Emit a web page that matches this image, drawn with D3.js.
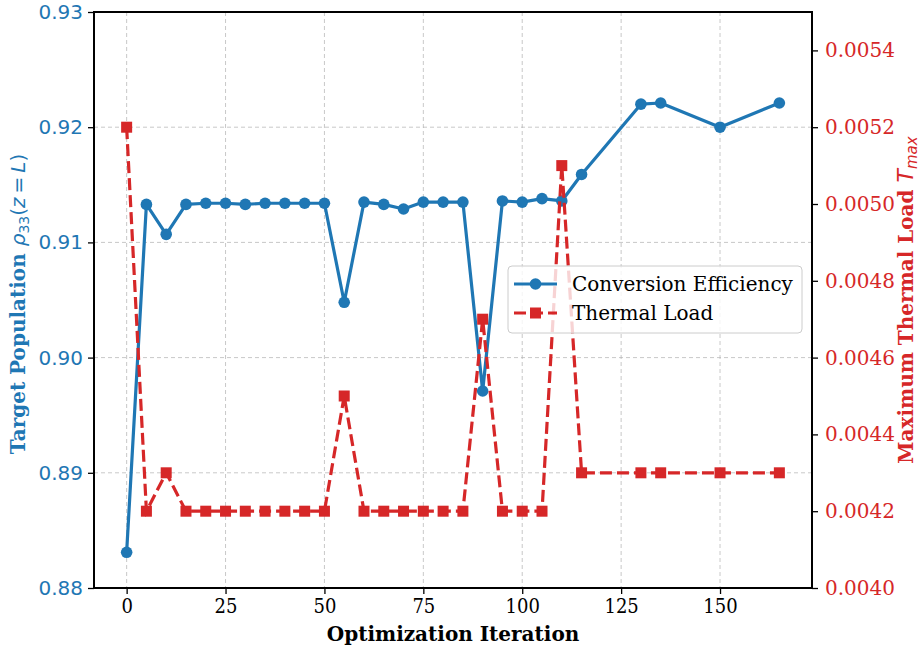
<!DOCTYPE html>
<html><head><meta charset="utf-8">
<script src="https://cdn.jsdelivr.net/npm/d3@7"></script>
<style>body{margin:0;background:#fff}svg{display:block}</style>
</head><body>
<svg id="c" width="924" height="650"></svg>
<script>
const iterations = [0,5,10,15,20,25,30,35,40,45,50,55,60,65,70,75,80,85,90,95,100,105,110,115,130,135,150,165];
const efficiency = [0.8831,0.9133,0.9107,0.9133,0.9134,0.9134,0.9133,0.9134,0.9134,0.9134,0.9134,0.9048,0.9135,0.9133,0.9129,0.9135,0.9135,0.9135,0.8971,0.9136,0.9135,0.9138,0.9136,0.9159,0.9220,0.9221,0.9200,0.9221];
const thermal = [0.0052,0.0042,0.0043,0.0042,0.0042,0.0042,0.0042,0.0042,0.0042,0.0042,0.0042,0.0045,0.0042,0.0042,0.0042,0.0042,0.0042,0.0042,0.0047,0.0042,0.0042,0.0042,0.0051,0.0043,0.0043,0.0043,0.0043,0.0043];
const xTicks = [0,25,50,75,100,125,150];
const leftTicks = [0.88,0.89,0.90,0.91,0.92,0.93];
const rightTicks = [0.0040,0.0042,0.0044,0.0046,0.0048,0.0050,0.0052,0.0054];
const seriesNames = ["Conversion Efficiency","Thermal Load"];

const blue = "#1f77b4", red = "#d62728";
const L = 94, R = 812, T = 12, B = 588;
const svg = d3.select("#c");
const x = d3.scaleLinear().domain([-8.25,173.25]).range([L,R]);
const yL = d3.scaleLinear().domain([0.88,0.93]).range([B,T]);
const yR = d3.scaleLinear().domain([0.0040,0.0055]).range([B,T]);

// grid
const grid = svg.append("g").attr("stroke","#b0b0b0").attr("stroke-opacity",0.7).attr("stroke-width",1).attr("stroke-dasharray","4,3");
grid.selectAll(".gx").data(xTicks).join("line").attr("x1",d=>x(d)).attr("x2",d=>x(d)).attr("y1",T).attr("y2",B);
grid.selectAll(".gy").data(leftTicks).join("line").attr("y1",d=>yL(d)).attr("y2",d=>yL(d)).attr("x1",L).attr("x2",R);

// axes
const fontSans = "'DejaVu Sans', sans-serif", fontSerif = "'DejaVu Serif', serif";
const ax = svg.append("g").attr("transform",`translate(0,${B})`).call(d3.axisBottom(x).tickValues(xTicks).tickFormat(d3.format("d")).tickSizeOuter(0).tickSize(6).tickPadding(5));
ax.selectAll("text").attr("font-family","'DejaVu Serif Condensed', 'DejaVu Serif', serif").attr("font-size",20).attr("fill","#000");
const al = svg.append("g").attr("transform",`translate(${L},0)`).call(d3.axisLeft(yL).tickValues(leftTicks).tickFormat(d3.format(".2f")).tickSizeOuter(0).tickSize(6).tickPadding(5));
al.selectAll("text").attr("font-family",fontSans).attr("font-size",20).attr("fill",blue);
const ar = svg.append("g").attr("transform",`translate(${R},0)`).call(d3.axisRight(yR).tickValues(rightTicks).tickFormat(d3.format(".4f")).tickSizeOuter(0).tickSize(6).tickPadding(7));
ar.selectAll("text").attr("font-family",fontSerif).attr("font-size",20).attr("fill",red);
[ax,al,ar].forEach(g=>{g.select(".domain").remove();g.selectAll(".tick line").attr("stroke","#000").attr("stroke-width",1.3);});

// lines
const lineB = d3.line().x((d,i)=>x(iterations[i])).y(d=>yL(d));
const lineR = d3.line().x((d,i)=>x(iterations[i])).y(d=>yR(d));
svg.append("path").datum(efficiency).attr("d",lineB).attr("fill","none").attr("stroke",blue).attr("stroke-width",3.2).attr("stroke-linejoin","round");
svg.append("g").selectAll("circle").data(efficiency).join("circle").attr("cx",(d,i)=>x(iterations[i])).attr("cy",d=>yL(d)).attr("r",5.8).attr("fill",blue);
svg.append("path").datum(thermal).attr("d",lineR).attr("fill","none").attr("stroke",red).attr("stroke-width",3.2).attr("stroke-dasharray","12,5");
svg.append("g").selectAll("rect").data(thermal).join("rect").attr("x",(d,i)=>x(iterations[i])-5.5).attr("y",d=>yR(d)-5.5).attr("width",11).attr("height",11).attr("fill",red);

// frame
svg.append("rect").attr("x",L).attr("y",T).attr("width",R-L).attr("height",B-T).attr("fill","none").attr("stroke","#000").attr("stroke-width",2);

// legend
const lg = svg.append("g");
lg.append("rect").attr("x",508).attr("y",266).attr("width",294).attr("height",67).attr("rx",4).attr("fill","#fff").attr("fill-opacity",0.8).attr("stroke","#cccccc").attr("stroke-width",1);
const lys = [284,313];
lg.append("line").attr("x1",514).attr("x2",557).attr("y1",lys[0]).attr("y2",lys[0]).attr("stroke",blue).attr("stroke-width",3.2);
lg.append("circle").attr("cx",535.5).attr("cy",lys[0]).attr("r",5.8).attr("fill",blue);
lg.append("line").attr("x1",514).attr("x2",557).attr("y1",lys[1]).attr("y2",lys[1]).attr("stroke",red).attr("stroke-width",3.2).attr("stroke-dasharray","12,5");
lg.append("rect").attr("x",530).attr("y",lys[1]-5.5).attr("width",11).attr("height",11).attr("fill",red);
lg.selectAll("text.l").data(seriesNames).join("text").attr("x",572).attr("y",(d,i)=>lys[i]).attr("dy","0.35em").attr("font-family",fontSerif).attr("font-size",20).attr("fill","#000").text(d=>d);

// axis labels
svg.append("text").attr("x",(L+R)/2).attr("y",641).attr("text-anchor","middle").attr("font-family",fontSerif).attr("font-weight","bold").attr("font-size",20).text("Optimization Iteration");

const yl = svg.append("text").attr("transform",`translate(25,${(T+B)/2+4}) rotate(-90)`).attr("text-anchor","middle").attr("font-family",fontSerif).attr("font-size",20).attr("fill",blue);
yl.append("tspan").attr("font-weight","bold").text("Target Population ");
yl.append("tspan").attr("font-family",fontSans).attr("font-style","italic").text("ρ");
yl.append("tspan").attr("font-family",fontSans).attr("font-size",14).attr("dy",4).text("33");
yl.append("tspan").attr("font-family",fontSans).attr("dy",-4).text("(");
yl.append("tspan").attr("font-family",fontSans).attr("font-style","italic").text("z");
yl.append("tspan").attr("font-family",fontSans).text("\u2009=\u2009");
yl.append("tspan").attr("font-family",fontSans).attr("font-style","italic").text("L");
yl.append("tspan").attr("font-family",fontSans).text(")");

const yr = svg.append("text").attr("transform",`translate(913,${(T+B)/2}) rotate(-90)`).attr("text-anchor","middle").attr("font-family",fontSerif).attr("font-size",20).attr("fill",red);
yr.append("tspan").attr("font-weight","bold").text("Maximum Thermal Load ");
yr.append("tspan").attr("font-family",fontSans).attr("font-style","italic").attr("font-size",22).text("T");
yr.append("tspan").attr("font-family",fontSans).attr("font-style","italic").attr("font-size",15).attr("dy",4).text("max");
</script>
</body></html>
